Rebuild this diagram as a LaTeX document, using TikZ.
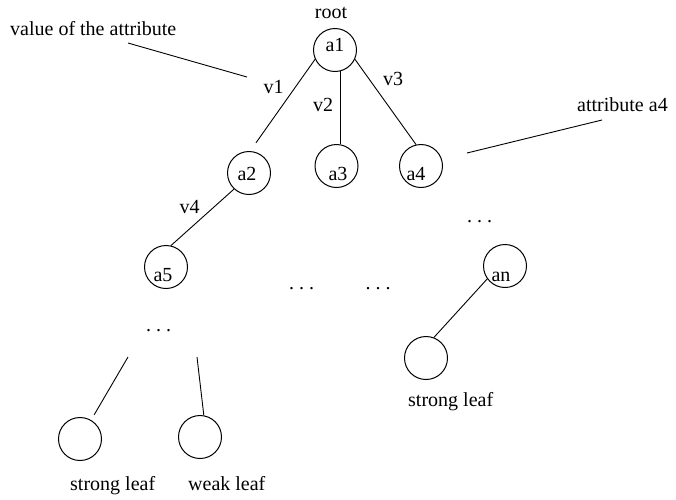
\documentclass[tikz,border=0pt]{standalone}
\usepackage{fontspec}
\newfontfamily\treefont{LiberationSerif}[Extension=.ttf, UprightFont=*-Regular]
\begin{document}
\begin{tikzpicture}[x=1pt,y=-1pt,
  every node/.style={font=\treefont\fontsize{20}{24}\selectfont, inner sep=0pt},
  vertex/.style={draw, circle, minimum size=43pt, line width=1pt},
  txt/.style={anchor=base},
  edge/.style={line width=0.9pt}]
\useasboundingbox (0,0) rectangle (676,499);

% attribute nodes
\node[vertex] (a1) at (335,50) {};
\node[vertex] (a2) at (249,173) {};
\node[vertex] (a3) at (336.5,166) {};
\node[vertex] (a4) at (421,166) {};
\node[vertex] (a5) at (166,267) {};
\node[vertex] (an) at (505,266) {};

% leaves
\node[vertex] (leafL) at (80,439) {};
\node[vertex] (leafW) at (200,437) {};
\node[vertex] (leafR) at (426,358) {};

% names inside the circles
\node[txt] (t1) at (335,51.5) {a1};
\node[txt] (t2) at (247,180) {a2};
\node[txt] (t3) at (338,180) {a3};
\node[txt] (t4) at (416,180) {a4};
\node[txt] (t5) at (163,281) {a5};
\node[txt] (tn) at (501,281) {an};

% edges of the tree
\draw[edge, shorten >=10pt] (a1.205) -- (a2.87);
\draw[edge] (a1.283) -- (a1.283 |- a3.north);
\draw[edge] (a1.335) -- (a4.103);
\draw[edge] (a2.227) -- (a5.77);
\draw[edge] (an.216) -- (leafR.69);

% branches towards the leaves
\coordinate (bL) at (128,357);
\coordinate (bW) at (197,357);
\draw[edge, shorten >=6pt] (bL) -- (leafL);
\draw[edge] (bW) -- (leafW.80);

% edge values
\node[txt] (v1) at (273.5,93) {v1};
\node[txt] (v2) at (323,111) {v2};
\node[txt] (v3) at (393,85) {v3};
\node[txt] (v4) at (189.5,213) {v4};
\node[txt] (root) at (331,18) {root};

% elided parts of the tree
\node[txt] (d1) at (158.5,331) {.\kern5pt.\kern5pt.};
\node[txt] (d2) at (301.5,289) {.\kern5pt.\kern5pt.};
\node[txt] (d3) at (378,289) {.\kern5pt.\kern5pt.};
\node[txt] (d4) at (479.5,222) {.\kern5pt.\kern5pt.};

% leaf captions
\node[txt, anchor=base west] (sL) at (70,490) {strong leaf};
\node[txt, anchor=base west] (wL) at (188,490) {weak leaf};
\node[txt, anchor=base west] (sR) at (408,406) {strong leaf};

% annotations
\node[txt, anchor=base west] (valnote) at (10,35) {value of the attribute};
\node[txt, anchor=base west] (attnote) at (577,111) {attribute a4};
\coordinate (p1) at (128,43);
\coordinate (p2) at (247,77);
\coordinate (q1) at (602,120);
\coordinate (q2) at (467,153);
\draw[edge] (p1) -- (p2);
\draw[edge] (q1) -- (q2);
\end{tikzpicture}
\end{document}
